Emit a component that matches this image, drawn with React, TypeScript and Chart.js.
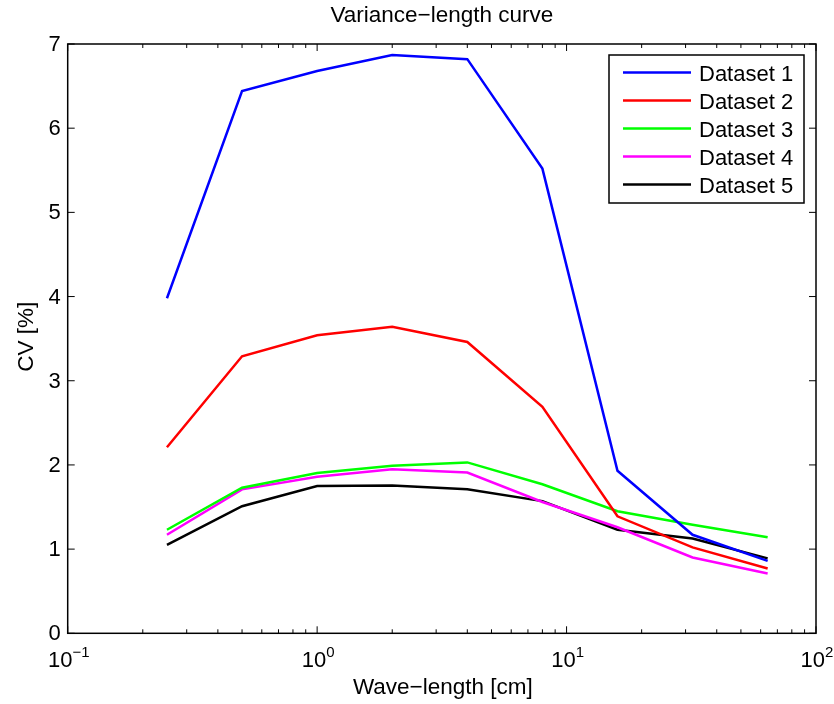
import React, { useEffect, useRef } from "react";
import { Chart, registerables } from "chart.js";

Chart.register(...registerables);

const wavelengths = [0.25, 0.5, 1, 2, 4, 8, 16, 32, 64];
const seriesLabels = ["Dataset 1", "Dataset 2", "Dataset 3", "Dataset 4", "Dataset 5"];
const seriesColors = ["#0000ff", "#ff0000", "#00ff00", "#ff00ff", "#000000"];
const dataset1 = [3.98, 6.44, 6.68, 6.87, 6.82, 5.52, 1.93, 1.17, 0.86];
const dataset2 = [2.21, 3.29, 3.54, 3.64, 3.46, 2.69, 1.39, 1.02, 0.77];
const dataset3 = [1.23, 1.73, 1.905, 1.99, 2.03, 1.77, 1.45, 1.29, 1.14];
const dataset4 = [1.17, 1.71, 1.86, 1.95, 1.91, 1.56, 1.26, 0.9, 0.71];
const dataset5 = [1.05, 1.51, 1.75, 1.755, 1.71, 1.57, 1.23, 1.125, 0.89];
const seriesValues = [dataset1, dataset2, dataset3, dataset4, dataset5];
const yTicks = [0, 1, 2, 3, 4, 5, 6, 7];
const xMajorTicks = [0.1, 1, 10, 100];
const xTickExponents = ["−1", "0", "1", "2"];
const titleText = "Variance−length curve";
const xLabel = "Wave−length [cm]";
const yLabel = "CV [%]";

const FONT = "'Liberation Sans', Arial, Helvetica, sans-serif";

const matlabPlugin = {
  id: "matlabAxes",
  afterDatasetsDraw(chart: any) {
    const ctx = chart.ctx as CanvasRenderingContext2D;
    const { left, right, top, bottom } = chart.chartArea;
    const xs = chart.scales.x;
    const ys = chart.scales.y;
    ctx.save();
    ctx.strokeStyle = "#000";
    ctx.fillStyle = "#000";
    ctx.lineWidth = 1.5;
    ctx.strokeRect(left, top, right - left, bottom - top);

    // y ticks
    ctx.lineWidth = 1;
    ctx.font = `22px ${FONT}`;
    ctx.textAlign = "right";
    ctx.textBaseline = "middle";
    yTicks.forEach((v) => {
      const py = ys.getPixelForValue(v);
      ctx.beginPath();
      ctx.moveTo(left, py);
      ctx.lineTo(left + 7, py);
      ctx.moveTo(right, py);
      ctx.lineTo(right - 7, py);
      ctx.stroke();
      ctx.fillText(String(v), left - 7, py + 1);
    });

    // x ticks (major + minor)
    for (let d = 0; d < xMajorTicks.length; d++) {
      const base = xMajorTicks[d];
      const px = xs.getPixelForValue(base);
      ctx.beginPath();
      ctx.moveTo(px, bottom);
      ctx.lineTo(px, bottom - 7);
      ctx.moveTo(px, top);
      ctx.lineTo(px, top + 7);
      ctx.stroke();
      if (d < xMajorTicks.length - 1) {
        for (let m = 2; m <= 9; m++) {
          const mx = xs.getPixelForValue(base * m);
          ctx.beginPath();
          ctx.moveTo(mx, bottom);
          ctx.lineTo(mx, bottom - 4);
          ctx.moveTo(mx, top);
          ctx.lineTo(mx, top + 4);
          ctx.stroke();
        }
      }
      // label 10^exp
      ctx.font = `22px ${FONT}`;
      const w10 = ctx.measureText("10").width;
      ctx.font = `15px ${FONT}`;
      const wSup = ctx.measureText(xTickExponents[d]).width;
      const total = w10 + wSup;
      const x0 = px - total / 2 + 1;
      ctx.textAlign = "left";
      ctx.textBaseline = "alphabetic";
      ctx.font = `22px ${FONT}`;
      ctx.fillText("10", x0, bottom + 34);
      ctx.font = `15px ${FONT}`;
      ctx.fillText(xTickExponents[d], x0 + w10, bottom + 24);
    }

    // title
    const cx = (left + right) / 2;
    ctx.font = `22.5px ${FONT}`;
    ctx.textAlign = "center";
    ctx.textBaseline = "alphabetic";
    ctx.fillText(titleText, cx, 22);
    // x label
    ctx.fillText(xLabel, cx + 1, 694);
    // y label
    ctx.save();
    ctx.translate(33, (top + bottom) / 2 - 2);
    ctx.rotate(-Math.PI / 2);
    ctx.fillText(yLabel, 0, 0);
    ctx.restore();

    // legend
    const lx0 = right - 207;
    const ly0 = top + 11;
    const lw = 195;
    const lh = 148;
    ctx.fillStyle = "#fff";
    ctx.fillRect(lx0, ly0, lw, lh);
    ctx.strokeStyle = "#000";
    ctx.lineWidth = 1.5;
    ctx.strokeRect(lx0, ly0, lw, lh);
    ctx.font = `22px ${FONT}`;
    ctx.textAlign = "left";
    ctx.textBaseline = "alphabetic";
    chart.data.datasets.forEach((ds: any, i: number) => {
      const ry = ly0 + 17.6 + 28 * i;
      ctx.strokeStyle = ds.borderColor;
      ctx.lineWidth = 2.5;
      ctx.beginPath();
      ctx.moveTo(lx0 + 14, ry);
      ctx.lineTo(lx0 + 82, ry);
      ctx.stroke();
      ctx.fillStyle = "#000";
      ctx.fillText(ds.label, lx0 + 90, ry + 8);
    });
    ctx.restore();
  },
};

export default function App() {
  const ref = useRef<HTMLCanvasElement | null>(null);
  useEffect(() => {
    document.body.style.margin = "0";
    if (!ref.current) return;
    const chart = new Chart(ref.current, {
      type: "line",
      data: {
        datasets: seriesValues.map((vals, i) => ({
          label: seriesLabels[i],
          data: wavelengths.map((x, j) => ({ x, y: vals[j] })),
          borderColor: seriesColors[i],
          backgroundColor: seriesColors[i],
          borderWidth: 2.5,
          pointRadius: 0,
          tension: 0,
          fill: false,
        })),
      },
      options: {
        animation: false,
        responsive: false,
        maintainAspectRatio: false,
        layout: { padding: { left: 67.7, right: 18, top: 44, bottom: 70.7 } },
        plugins: { legend: { display: false }, title: { display: false }, tooltip: { enabled: false } },
        scales: {
          x: { type: "logarithmic", min: 0.1, max: 100, display: false },
          y: { type: "linear", min: 0, max: 7, display: false },
        },
      },
      plugins: [matlabPlugin],
    });
    return () => chart.destroy();
  }, []);
  return (
    <div style={{ width: 834, height: 704, background: "#fff" }}>
      <canvas ref={ref} width={834} height={704} style={{ display: "block" }} />
    </div>
  );
}
